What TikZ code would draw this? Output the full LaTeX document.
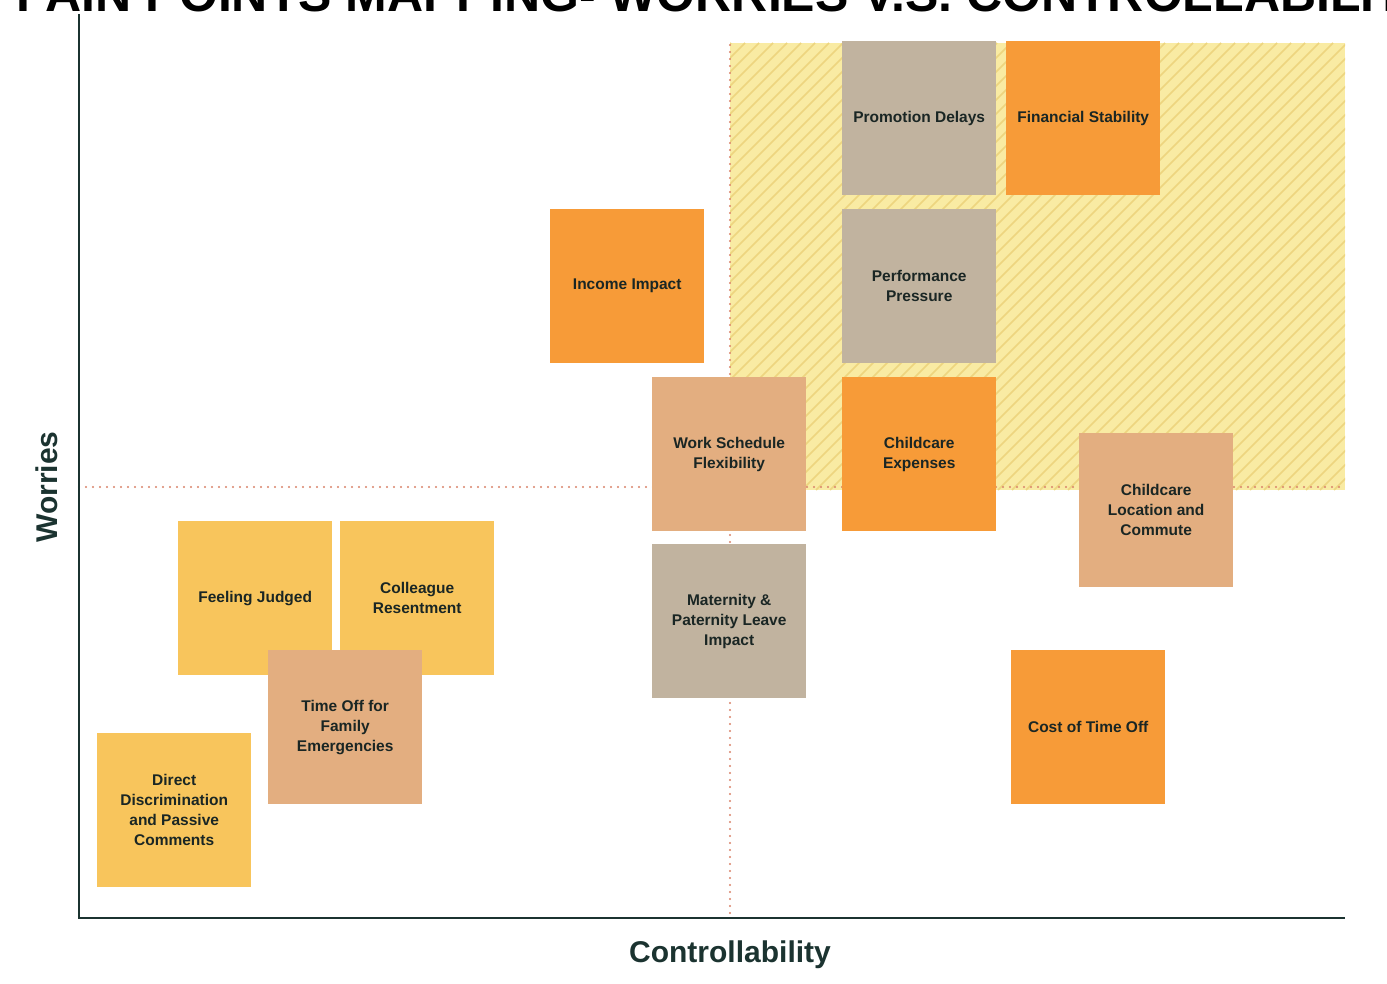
\documentclass[tikz,border=0pt]{standalone}
\usepackage{fontspec}
\setmainfont{Liberation Sans}
\definecolor{ink}{HTML}{1A2624}
\definecolor{axis}{HTML}{1B3330}
\definecolor{dotc}{HTML}{D9826A}
\definecolor{zonefill}{HTML}{F9EBA3}
\definecolor{hatchc}{HTML}{EDD57F}
\definecolor{sOrange}{HTML}{F79B38}
\definecolor{sTan}{HTML}{C1B39F}
\definecolor{sPeach}{HTML}{E3AE80}
\definecolor{sYellow}{HTML}{F8C55C}
\newcommand{\stickyfont}{\bfseries\fontsize{15.5}{20}\selectfont}
\newcommand{\axisfont}{\bfseries\fontsize{30}{36}\selectfont}
\newcommand{\titlefont}{\bfseries\fontsize{50}{56}\selectfont}
\tikzset{
  sticky/.style={minimum width=154pt, minimum height=154pt, inner sep=0pt,
    align=center, font=\stickyfont, text=ink, anchor=north west},
  midline/.style={dotc, line width=2.2pt, line cap=round, dash pattern=on 0pt off 7pt},
  hatchline/.style={hatchc, line width=1.6pt},
  axisline/.style={axis, line width=2.5pt},
  axislabel/.style={font=\axisfont, text=axis, inner sep=0pt}
}
\begin{document}
\begin{tikzpicture}[x=1pt,y=-1pt]
\useasboundingbox (0,0) rectangle (1387,984);
\clip (0,0) rectangle (1387,984);
\fill[white] (0,0) rectangle (1387,984);
% title (cut off at the top, as in the reference)
\node[anchor=base west, font=\titlefont, text=black, inner sep=0pt] (title) at (16,12) {PAIN POINTS MAPPING- WORRIES V.S. CONTROLLABILITY};
% highlighted zone
\fill[zonefill] (730,43) rectangle (1345,490);
\begin{scope}
  \clip (730,43) rectangle (1345,490);
  \foreach \i in {270,284,...,1360} \draw[hatchline] (\i,490) -- ({\i+447},43);
\end{scope}
% mid lines
\coordinate (hl) at (79,487);
\coordinate (hr) at (1345,487);
\coordinate (vt) at (730,45);
\coordinate (vb) at (730,914);
\draw[midline] (hl) -- (hr);
\draw[midline] (vt) -- (vb);
% stickies
\node[sticky, fill=sTan] (promo) at (842,41) {Promotion Delays};
\node[sticky, fill=sOrange] (fin) at (1006,41) {Financial Stability};
\node[sticky, fill=sOrange] (income) at (550,209) {Income Impact};
\node[sticky, fill=sTan] (perf) at (842,209) {Performance\\Pressure};
\node[sticky, fill=sPeach] (work) at (652,377) {Work Schedule\\Flexibility};
\node[sticky, fill=sOrange] (cexp) at (842,377) {Childcare\\Expenses};
\node[sticky, fill=sPeach] (cloc) at (1079,433) {Childcare\\Location and\\Commute};
\node[sticky, fill=sTan] (mat) at (652,544) {Maternity \&\\Paternity Leave\\Impact};
\node[sticky, fill=sOrange] (cost) at (1011,650) {Cost of Time Off};
\node[sticky, fill=sYellow] (judged) at (178,521) {Feeling Judged};
\node[sticky, fill=sYellow] (coll) at (340,521) {Colleague\\Resentment};
\node[sticky, fill=sPeach] (toff) at (268,650) {Time Off for\\Family\\Emergencies};
\node[sticky, fill=sYellow] (disc) at (97,733) {Direct\\Discrimination\\and Passive\\Comments};
% axes
\coordinate (origin) at (79,918);
\coordinate (ytop) at (79,14);
\coordinate (xend) at (1345,918);
\draw[axisline] (ytop) -- (origin) -- (xend);
\node[axislabel, rotate=90] (ylab) at (47,487) {Worries};
\node[axislabel] (xlab) at (730,955) {Controllability};
\end{tikzpicture}
\end{document}
